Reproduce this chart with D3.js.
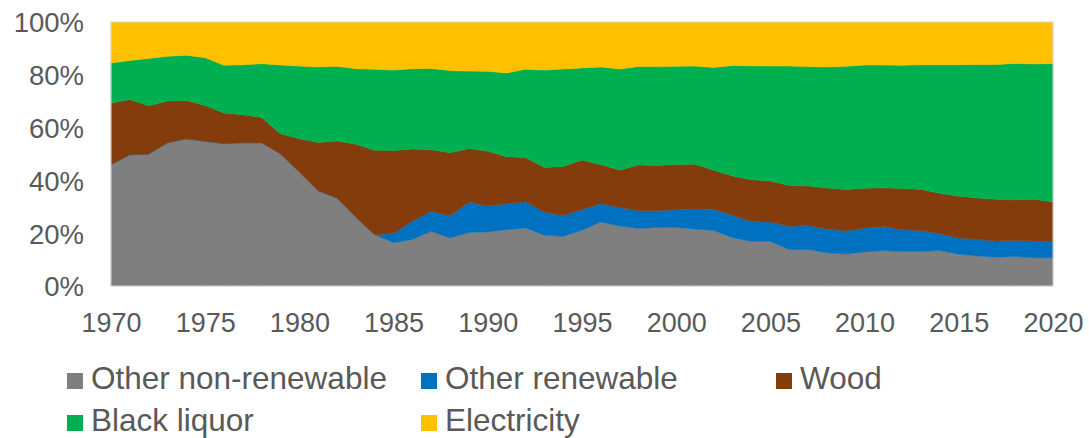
<!DOCTYPE html>
<html>
<head>
<meta charset="utf-8">
<script src="https://cdn.jsdelivr.net/npm/d3@7"></script>
<style>
  body { margin: 0; background: #fff; }
  svg { display: block; font-family: "Liberation Sans", Arial, sans-serif; }
</style>
</head>
<body>
<svg id="chart" width="1089" height="438"></svg>
<script>
var years = [1970,1971,1972,1973,1974,1975,1976,1977,1978,1979,
	1980,1981,1982,1983,1984,1985,1986,1987,1988,1989,
	1990,1991,1992,1993,1994,1995,1996,1997,1998,1999,
	2000,2001,2002,2003,2004,2005,2006,2007,2008,2009,
	2010,2011,2012,2013,2014,2015,2016,2017,2018,2019,2020];

var otherNonRenewable = [46.0,49.7,50.0,54.3,55.8,54.8,54.0,54.3,54.3,50.1,
	43.2,36.1,33.3,26.1,19.4,16.4,17.6,20.7,18.2,20.3,
	20.5,21.3,22.0,19.2,18.8,21.1,24.2,22.7,21.8,22.2,
	22.2,21.6,21.0,18.3,16.9,16.9,13.8,13.8,12.6,12.1,
	12.9,13.4,13.1,13.1,13.4,12.0,11.4,10.9,11.2,10.7,10.7];
var otherRenewable = [0,0,0,0,0,0,0,0,0,0,
	0,0,0,0,0,3.5,6.9,7.6,8.3,11.5,
	9.8,9.9,9.9,8.8,7.8,7.9,7.0,7.0,6.7,6.3,
	6.7,7.7,8.0,8.5,7.5,7.3,8.8,9.1,9.0,8.7,
	9.1,9.1,8.2,7.9,6.4,6.2,6.2,6.1,6.0,6.3,6.0];
var wood = [23.3,20.9,18.3,15.8,14.5,13.6,11.5,10.6,9.5,7.6,
	12.6,18.3,21.6,27.6,32.0,31.4,27.4,23.3,24.0,20.3,
	20.7,17.8,16.8,16.9,18.7,18.7,14.8,14.2,17.3,17.1,
	17.1,16.8,14.8,14.9,15.8,15.6,15.5,15.0,15.5,15.8,
	15.0,14.7,15.6,15.6,15.3,15.8,15.7,15.9,15.4,15.9,15.1];
var blackLiquor = [15.2,14.8,17.9,16.9,17.1,18.1,18.1,18.9,20.4,26.0,
	27.5,28.6,28.3,28.6,30.7,30.5,30.4,30.8,31.1,29.3,
	30.3,31.7,33.4,36.9,36.9,34.9,37.0,38.3,37.3,37.5,
	37.2,37.2,39.0,41.8,43.2,43.5,45.2,45.2,45.9,46.6,
	46.7,46.5,46.7,47.2,48.7,49.8,50.6,51.0,51.7,51.2,52.5];
var electricity = [15.5,14.6,13.8,13.0,12.6,13.5,16.4,16.2,15.8,16.3,
	16.7,17.0,16.8,17.7,17.9,18.2,17.7,17.6,18.4,18.6,
	18.7,19.3,17.9,18.2,17.8,17.4,17.0,17.8,16.9,16.9,
	16.8,16.7,17.2,16.5,16.6,16.7,16.7,16.9,17.0,16.8,
	16.3,16.3,16.4,16.2,16.2,16.2,16.1,16.1,15.7,15.9,15.7];

var seriesNames = ["Other non-renewable", "Other renewable", "Wood", "Black liquor", "Electricity"];
var seriesColors = ["#7f7f7f", "#0070c0", "#843c0c", "#00b050", "#ffc000"];
var xTicks = [1970,1975,1980,1985,1990,1995,2000,2005,2010,2015,2020];
var yTicks = [0,0.2,0.4,0.6,0.8,1];

var margin = {top: 22, right: 36, bottom: 152, left: 111};
var width = 1089 - margin.left - margin.right;
	height = 438 - margin.top - margin.bottom;

var svg = d3.select("#chart");
var g = svg.append("g")
	.attr("transform", "translate(" + margin.left + "," + margin.top + ")");

// build rows for d3.stack
var allSeries = [otherNonRenewable, otherRenewable, wood, blackLiquor, electricity];
var rows = years.map(function(yr, i) {
	var r = {year: yr};
	seriesNames.forEach(function(n, k) { r[n] = allSeries[k][i]; });
	return r;
});

var stack = d3.stack()
	.keys(seriesNames)
	.offset(d3.stackOffsetExpand);
var layers = stack(rows);

var x = d3.scaleLinear().domain([1970, 2020]).range([0, width]);
var y = d3.scaleLinear().domain([0, 1]).range([height, 0]);

var area = d3.area()
	.x(function(d) { return x(d.data.year); })
	.y0(function(d) { return y(d[0]); })
	.y1(function(d) { return y(d[1]); });

g.selectAll(".layer")
	.data(layers)
	.enter().append("path")
	.attr("class", "layer")
	.attr("d", area)
	.attr("fill", function(d, i) { return seriesColors[i]; })
	.attr("stroke", function(d, i) { return seriesColors[i]; })
	.attr("stroke-width", 0.5);

// plot border
g.append("rect")
	.attr("x", 0).attr("y", 0)
	.attr("width", width).attr("height", height)
	.attr("fill", "none")
	.attr("stroke", "#d9d9d9")
	.attr("stroke-width", 1);

// y axis labels
var yAxis = d3.axisLeft(y)
	.tickValues(yTicks)
	.tickFormat(d3.format(".0%"))
	.tickSize(0)
	.tickPadding(27);
g.append("g").call(yAxis)
	.call(function(s) { s.select(".domain").remove(); })
	.selectAll("text")
	.attr("fill", "#595959")
	.style("font-size", "27.5px")
	.attr("dy", "0.36em");

// x axis labels
var xAxis = d3.axisBottom(x)
	.tickValues(xTicks)
	.tickFormat(d3.format("d"))
	.tickSize(0)
	.tickPadding(46);
g.append("g")
	.attr("transform", "translate(0," + height + ")")
	.call(xAxis)
	.call(function(s) { s.select(".domain").remove(); })
	.selectAll("text")
	.attr("fill", "#595959")
	.style("font-size", "27px")
	.attr("dy", "0");

// legend
var legendCols = [67, 421, 776];
	legendRows = [389, 431];
var legend = svg.append("g");
seriesNames.forEach(function(name, i) {
	var lx = legendCols[i % 3],
		ly = legendRows[Math.floor(i / 3)];
	legend.append("rect")
		.attr("x", lx).attr("y", ly - 16)
		.attr("width", 16).attr("height", 16)
		.attr("fill", seriesColors[i]);
	legend.append("text")
		.attr("x", lx + 24).attr("y", ly)
		.attr("fill", "#595959")
		.style("font-size", "31.5px")
		.text(name);
});
</script>
</body>
</html>
